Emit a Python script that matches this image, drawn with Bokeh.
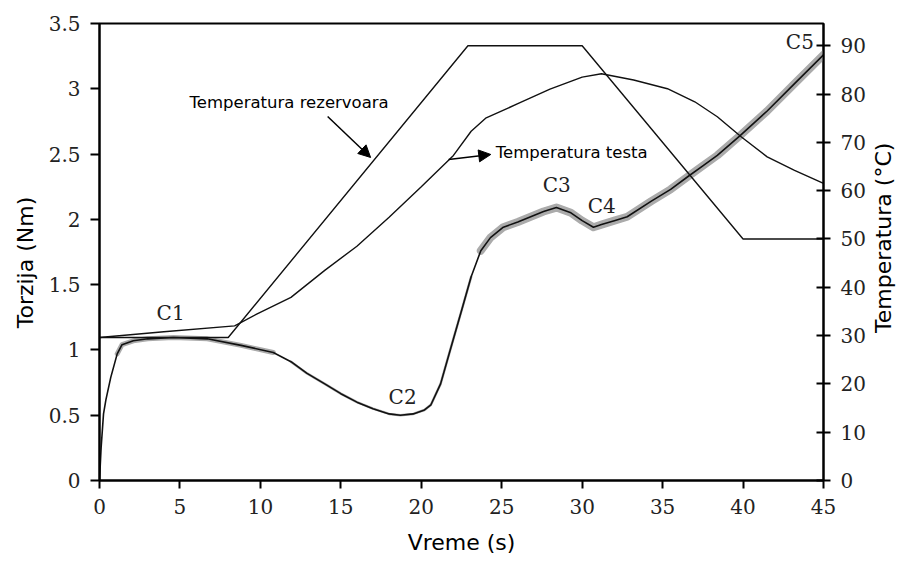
from bokeh.plotting import figure
from bokeh.models import (Range1d, LinearAxis, FixedTicker, CustomJSTickFormatter,
                          Label, Arrow, NormalHead)
from bokeh.embed import file_html
from bokeh.resources import INLINE
import math

# ---------------- data ----------------
time_torque = [0, 0.1, 0.25, 0.4, 0.7, 1.1, 1.4, 2.1, 3.0, 4.6, 6.7, 8.8, 10.8, 11.9,
               12.9, 14.0, 15.0, 16.0, 17.0, 18.0, 18.7, 19.5, 20.2, 20.6, 21.2, 21.8,
               22.5, 23.1, 23.7, 24.3, 25.1, 26.0, 26.8, 27.6, 28.4, 29.3, 30.0, 30.7,
               31.2, 32.0, 32.8, 34.3, 35.5, 36.6, 37.5, 38.4, 39.8, 41.5, 43.2, 45.0]
torque = [0.0, 0.25, 0.51, 0.62, 0.79, 0.97, 1.04, 1.07, 1.085, 1.095, 1.085, 1.035, 0.98, 0.91,
          0.82, 0.74, 0.665, 0.60, 0.55, 0.51, 0.50, 0.51, 0.54, 0.58, 0.74, 1.0,
          1.30, 1.56, 1.76, 1.86, 1.94, 1.98, 2.02, 2.06, 2.09, 2.05, 1.99, 1.94,
          1.96, 1.99, 2.02, 2.14, 2.23, 2.33, 2.41, 2.49, 2.64, 2.83, 3.04, 3.26]

time_reservoir = [0, 8.0, 22.9, 30.0, 40.0, 45.0]
temp_reservoir = [29.6, 29.6, 90.0, 90.0, 50.0, 50.0]

time_dough = [0, 4.0, 8.4, 9.8, 11.9, 14.0, 16.0, 18.0, 20.0, 22.0, 23.1, 24.0,
              26.0, 28.0, 30.0, 31.2, 33.2, 35.3, 37.0, 38.4, 39.9, 41.5, 43.2, 45.0]
temp_dough = [29.6, 30.8, 32.0, 34.5, 37.9, 43.5, 48.5, 54.5, 60.8, 67.3, 72.3, 75.0,
              78.0, 81.0, 83.5, 84.2, 82.9, 81.1, 78.4, 75.3, 71.1, 67.0, 64.2, 61.5]

x_ticks = [0, 5, 10, 15, 20, 25, 30, 35, 40, 45]
torque_ticks = [0, 0.5, 1, 1.5, 2, 2.5, 3, 3.5]
temp_ticks = [0, 10, 20, 30, 40, 50, 60, 70, 80, 90]

point_names = ["C1", "C2", "C3", "C4", "C5"]
point_x = [4.42, 18.84, 28.42, 31.22, 43.53]
point_y = [1.28, 0.64, 2.26, 2.10, 3.36]

x_label = "Vreme (s)"
left_label = "Torzija (Nm)"
right_label = "Temperatura (°C)"
note_reservoir = "Temperatura rezervoara"
note_dough = "Temperatura testa"

# ---------------- figure ----------------
p = figure(width=913, height=565, output_backend="svg", toolbar_location=None,
           x_range=Range1d(0, 45), y_range=Range1d(0, 3.5),
           min_border_left=99, min_border_right=90, min_border_top=23, min_border_bottom=85)
p.extra_y_ranges = {"temp": Range1d(0, 94.6)}
p.grid.visible = False
p.background_fill_color = "white"
p.border_fill_color = "white"
p.outline_line_color = "black"
p.outline_line_width = 2

serif = "DejaVu Serif"
sans = "DejaVu Sans"
fmt = CustomJSTickFormatter(code="return tick.toString();")
NB = "\u00a0"

def style_axis(ax, tin, tout, standoff, label, label_standoff):
    ax.axis_line_width = 2
    ax.axis_line_color = "black"
    ax.major_tick_line_width = 2
    ax.major_tick_line_color = "black"
    ax.major_tick_in = tin
    ax.major_tick_out = tout
    ax.minor_tick_line_color = None
    ax.major_label_text_font = serif
    ax.major_label_text_font_size = "20px"
    ax.major_label_text_color = "#222222"
    ax.major_label_standoff = standoff
    ax.formatter = fmt
    if label:
        ax.axis_label = label
        ax.axis_label_text_font = sans
        ax.axis_label_text_font_size = "22px"
        ax.axis_label_text_font_style = "normal"
        ax.axis_label_text_color = "black"
        ax.axis_label_standoff = label_standoff

p.xaxis.ticker = FixedTicker(ticks=x_ticks)
p.yaxis.ticker = FixedTicker(ticks=torque_ticks)
style_axis(p.xaxis[0], 0, 8, 10, x_label, 13)
style_axis(p.yaxis[0], 0, 9, 10, left_label + NB * 3, 8)

right_axis = LinearAxis(y_range_name="temp", ticker=FixedTicker(ticks=temp_ticks))
style_axis(right_axis, 7, 7, 10, None, 0)
p.add_layout(right_axis, "right")

# title of the right axis, drawn as the single label of a bare outer axis
right_title_pos = [1.13]   # torque-scale position where the upward title starts
title_axis = LinearAxis(ticker=FixedTicker(ticks=right_title_pos),
                        formatter=CustomJSTickFormatter(args=dict(t=right_label), code="return t;"))
title_axis.axis_line_color = None
title_axis.major_tick_line_color = None
title_axis.minor_tick_line_color = None
title_axis.major_tick_in = 0
title_axis.major_tick_out = 0
title_axis.major_label_standoff = 15
title_axis.major_label_orientation = math.pi / 2
title_axis.major_label_text_font = sans
title_axis.major_label_text_font_size = "22px"
title_axis.major_label_text_line_height = 1.0
title_axis.major_label_text_color = "black"
p.add_layout(title_axis, "right")

# grey noise band of torque curve
band_sets = [(1.0, 11.5, 5), (11.5, 23.6, 2.5), (23.6, 45.0, 8)]
for lo, hi, w in band_sets:
    xs = [t for t in time_torque if lo <= t <= hi]
    ys = [v for t, v in zip(time_torque, torque) if lo <= t <= hi]
    p.line(xs, ys, line_color="#ababab", line_width=w, line_join="round", line_cap="round")

p.line(time_torque, torque, line_color="#111111", line_width=1.6)
p.line(time_reservoir, temp_reservoir, y_range_name="temp", line_color="#111111", line_width=1.4)
p.line(time_dough, temp_dough, y_range_name="temp", line_color="#111111", line_width=1.4)

for name, x, y in zip(point_names, point_x, point_y):
    p.add_layout(Label(x=x, y=y, text=name, text_font=serif, text_font_size="20px",
                       text_color="#222222", text_align="center", text_baseline="middle"))

p.add_layout(Label(x=5.6, y=2.897, text=note_reservoir, text_font=sans, text_font_size="16.5px",
                   text_color="black", text_align="left", text_baseline="middle"))
p.add_layout(Label(x=24.63, y=2.514, text=note_dough, text_font=sans, text_font_size="16.5px",
                   text_color="black", text_align="left", text_baseline="middle"))

p.add_layout(Arrow(end=NormalHead(size=12, fill_color="black", line_color="black"),
                   x_start=14.18, y_start=2.788, x_end=16.85, y_end=2.474,
                   line_color="black", line_width=1.5))
p.add_layout(Arrow(end=NormalHead(size=12, fill_color="black", line_color="black"),
                   x_start=21.70, y_start=2.458, x_end=24.32, y_end=2.497,
                   line_color="black", line_width=1.5))

open("out.html", "w").write(file_html(p, INLINE))
